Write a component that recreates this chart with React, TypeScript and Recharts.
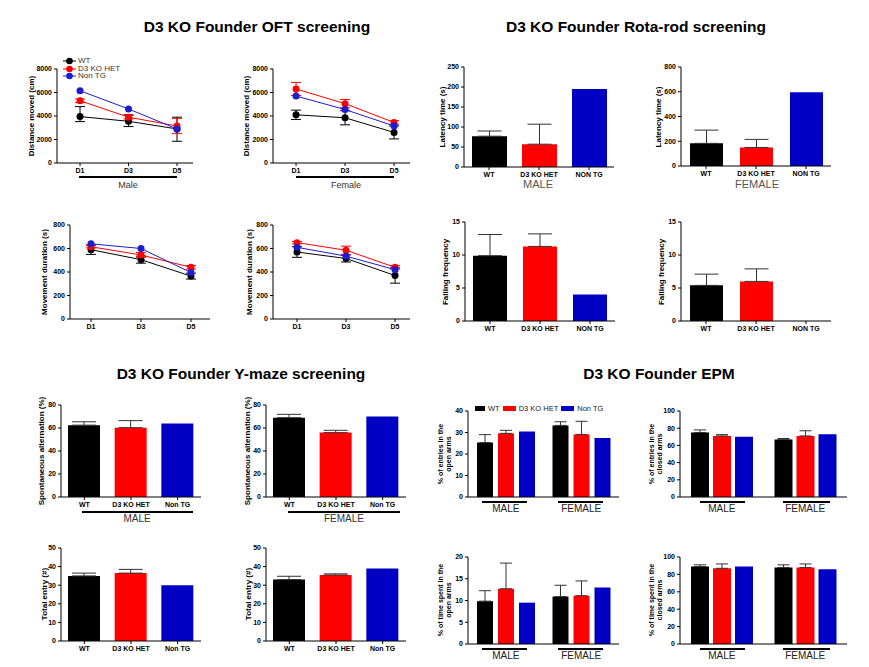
import React from 'react';
import { LineChart, Line, BarChart, Bar, XAxis, YAxis, ErrorBar, Cell } from 'recharts';

// ---- data ----
const groups = ['WT', 'D3 KO HET', 'Non TG'];
const lineColors = ['#000000', '#ff0000', '#1c1cd0'];
const barColors = ['#000000', '#ff0000', '#0000c4'];
const days = [1, 3, 5];
const rotaLabels = ['WT', 'D3 KO HET', 'NON TG'];
const ymazeLabels = ['WT', 'D3 KO HET', 'Non TG'];
const sexes = ['MALE', 'FEMALE'];

// OFT distance moved (cm)
const distMaleWT = [3950, 3550, 2900];
const distMaleWTErr = [[430, 850], [450, 550], [1050, 1000]];
const distMaleHET = [5300, 3900, 3150];
const distMaleHETErr = [150, 150, 650];
const distMaleNTG = [6150, 4600, 2900];
const distFemaleWT = [4100, 3850, 2600];
const distFemaleWTErr = [400, 600, 550];
const distFemaleHET = [6300, 5050, 3450];
const distFemaleHETErr = [560, 350, 150];
const distFemaleNTG = [5700, 4550, 3150];

// OFT movement duration (s)
const durMaleWT = [590, 505, 365];
const durMaleWTErr = [40, 30, 25];
const durMaleHET = [615, 545, 440];
const durMaleHETErr = [10, 20, 15];
const durMaleNTG = [640, 600, 395];
const durFemaleWT = [570, 515, 370];
const durFemaleWTErr = [45, 30, 65];
const durFemaleHET = [650, 585, 440];
const durFemaleHETErr = [10, 35, 15];
const durFemaleNTG = [610, 535, 420];

// Rota-rod
const latencyMale = [77, 57, 195];
const latencyMaleErr = [13, 50, 0];
const latencyFemale = [183, 150, 595];
const latencyFemaleErr = [107, 65, 0];
const fallMale = [9.9, 11.3, 4.0];
const fallMaleErr = [3.2, 1.9, 0];
const fallFemale = [5.4, 6.0, 0];
const fallFemaleErr = [1.7, 1.9, 0];

// Y-maze
const altMale = [62.5, 60.3, 64];
const altMaleErr = [2.9, 6.1, 0];
const altFemale = [69, 56, 70];
const altFemaleErr = [2.9, 2, 0];
const entryMale = [35, 36.5, 30];
const entryMaleErr = [1.5, 2, 0];
const entryFemale = [33, 35.5, 39];
const entryFemaleErr = [1.8, 0.6, 0];

// EPM (per sex: WT, HET, Non TG)
const openEntryMale = [25.3, 29.6, 30.5];
const openEntryMaleErr = [3.7, 1.4, 0];
const openEntryFemale = [33.3, 29.1, 27.4];
const openEntryFemaleErr = [1.7, 6.1, 0];
const closedEntryMale = [75, 71, 70];
const closedEntryMaleErr = [3, 1.5, 0];
const closedEntryFemale = [67, 71, 73];
const closedEntryFemaleErr = [1, 6, 0];
const openTimeMale = [9.85, 12.7, 9.5];
const openTimeMaleErr = [2.4, 5.9, 0];
const openTimeFemale = [10.9, 11.1, 13.0];
const openTimeFemaleErr = [2.6, 3.4, 0];
const closedTimeMale = [89, 87, 89];
const closedTimeMaleErr = [2, 5, 0];
const closedTimeFemale = [88, 88, 86];
const closedTimeFemaleErr = [3, 4, 0];

// ---- helpers ----
const FONT = '"Liberation Sans", Arial, sans-serif';
const YW = 40;
const MT = 8;
const MR = 8;
const XH = 30;

type Rect = { x: number; y: number; w: number; h: number };

const tickStyle = { fontSize: 7, fontWeight: 700, fill: '#000', fontFamily: FONT };
const axisBits = {
  axisLine: { stroke: '#000' },
  tickLine: { stroke: '#000' },
  tickSize: 3,
};

const lineRows = (vals: number[][], errs: any[][]) =>
  days.map((d, i) => ({
    day: d,
    s0: vals[0][i],
    s1: vals[1][i],
    s2: vals[2][i],
    e0: errs[0][i],
    e1: errs[1][i],
  }));

const barRows = (labels: string[], vals: number[], errs: number[]) =>
  labels.map((name, i) => ({ name, value: vals[i], err: errs[i] ? [0, errs[i]] : null }));

const groupRows = (male: number[], maleErr: number[], female: number[], femaleErr: number[]) =>
  [[male, maleErr], [female, femaleErr]].map(([v, e], i) => ({
    sex: sexes[i],
    v0: v[0], v1: v[1], v2: v[2],
    e0: e[0] ? [0, e[0]] : null,
    e1: e[1] ? [0, e[1]] : null,
    e2: e[2] ? [0, e[2]] : null,
  }));

function Box({ r, children }: { r: Rect; children: React.ReactNode }) {
  return <div style={{ position: 'absolute', left: r.x - YW, top: r.y - MT }}>{children}</div>;
}

function YTitle({ x, y, lines, size = 8 }: { x: number; y: number; lines: string[]; size?: number }) {
  return (
    <div
      style={{
        position: 'absolute',
        left: x,
        top: y,
        transform: 'translate(-50%,-50%) rotate(-90deg)',
        whiteSpace: 'nowrap',
        fontSize: size,
        fontWeight: 700,
        lineHeight: 1.15,
        textAlign: 'center',
      }}
    >
      {lines.map((l) => (
        <div key={l}>{l}</div>
      ))}
    </div>
  );
}

function Text({ x, y, children, size = 10, color = '#333', weight = 400 }: any) {
  return (
    <div
      style={{
        position: 'absolute',
        left: x,
        top: y,
        transform: 'translate(-50%,-50%)',
        whiteSpace: 'nowrap',
        fontSize: size,
        color,
        fontWeight: weight,
      }}
    >
      {children}
    </div>
  );
}

function Rule({ x1, x2, y }: { x1: number; x2: number; y: number }) {
  return <div style={{ position: 'absolute', left: x1, top: y, width: x2 - x1, height: 1.5, background: '#000' }} />;
}

function LinePanel({ r, domain, yMax, yTicks, rows }: any) {
  return (
    <Box r={r}>
      <LineChart width={r.w + YW + MR} height={r.h + MT + XH} data={rows} margin={{ top: MT, right: MR, left: 0, bottom: 0 }}>
        <XAxis
          dataKey="day"
          type="number"
          domain={domain}
          ticks={days}
          tickFormatter={(v) => `D${v}`}
          height={XH}
          tick={tickStyle}
          {...axisBits}
        />
        <YAxis type="number" domain={[0, yMax]} ticks={yTicks} width={YW} tick={tickStyle} interval={0} {...axisBits} />
        {[0, 1, 2].map((k) => (
          <Line
            key={k}
            dataKey={`s${k}`}
            stroke={lineColors[k]}
            strokeWidth={1}
            dot={{ r: 3.5, fill: lineColors[k], stroke: lineColors[k], strokeWidth: 0 }}
            isAnimationActive={false}
          >
            {k < 2 && <ErrorBar dataKey={`e${k}`} width={5} stroke={lineColors[k]} strokeWidth={1} direction="y" />}
          </Line>
        ))}
      </LineChart>
    </Box>
  );
}

function BarPanel({ r, yMax, yTicks, rows, barSize }: any) {
  return (
    <Box r={r}>
      <BarChart width={r.w + YW + MR} height={r.h + MT + XH} data={rows} margin={{ top: MT, right: MR, left: 0, bottom: 0 }}>
        <XAxis dataKey="name" height={XH} tick={tickStyle} interval={0} {...axisBits} />
        <YAxis type="number" domain={[0, yMax]} ticks={yTicks} width={YW} tick={tickStyle} interval={0} {...axisBits} />
        <Bar dataKey="value" barSize={barSize} isAnimationActive={false}>
          {rows.map((_: any, i: number) => (
            <Cell key={i} fill={barColors[i]} />
          ))}
          <ErrorBar dataKey="err" width={12} stroke="#333" strokeWidth={1} direction="y" />
        </Bar>
      </BarChart>
    </Box>
  );
}

function GroupPanel({ r, yMax, yTicks, rows, barSize, barGap }: any) {
  return (
    <Box r={r}>
      <BarChart
        width={r.w + YW + MR}
        height={r.h + MT + XH}
        data={rows}
        barGap={barGap}
        margin={{ top: MT, right: MR, left: 0, bottom: 0 }}
      >
        <XAxis
          dataKey="sex"
          height={XH}
          tick={{ fontSize: 10, fill: '#222', fontFamily: FONT }}
          tickLine={false}
          tickSize={0}
          tickMargin={8}
          axisLine={{ stroke: '#000' }}
          interval={0}
        />
        <YAxis type="number" domain={[0, yMax]} ticks={yTicks} width={YW} tick={tickStyle} interval={0} {...axisBits} />
        {[0, 1, 2].map((k) => (
          <Bar key={k} dataKey={`v${k}`} fill={barColors[k]} barSize={barSize} isAnimationActive={false}>
            <ErrorBar dataKey={`e${k}`} width={6} stroke="#333" strokeWidth={1} direction="y" />
          </Bar>
        ))}
      </BarChart>
    </Box>
  );
}

// ---- panel rects ----
const P1 = { x: 57, y: 69, w: 136, h: 94 };
const P2 = { x: 273, y: 69, w: 137, h: 94 };
const P3 = { x: 70, y: 225, w: 140, h: 94 };
const P4 = { x: 273, y: 225, w: 137, h: 94 };
const P5 = { x: 464, y: 67, w: 150, h: 100 };
const P6 = { x: 681, y: 67, w: 150, h: 99 };
const P7 = { x: 465, y: 222, w: 150, h: 99 };
const P8 = { x: 681, y: 222, w: 150, h: 99 };
const P9 = { x: 61, y: 405, w: 140, h: 92 };
const P10 = { x: 266, y: 405, w: 140, h: 92 };
const P11 = { x: 61, y: 548, w: 140, h: 93 };
const P12 = { x: 266, y: 548, w: 140, h: 93 };
const P13 = { x: 468, y: 411, w: 151, h: 86 };
const P14 = { x: 468, y: 557, w: 151, h: 87 };
const P15 = { x: 680, y: 411, w: 167, h: 86 };
const P16 = { x: 680, y: 557, w: 167, h: 87 };

export default function App() {
  return (
    <div
      style={{
        position: 'absolute',
        left: 0,
        top: 0,
        width: 869,
        height: 667,
        background: '#fff',
        fontFamily: FONT,
        color: '#000',
        overflow: 'hidden',
      }}
    >
      <Text x={257} y={27} size={15.5} weight={700} color="#000">D3 KO Founder OFT screening</Text>
      <Text x={636} y={27} size={15.5} weight={700} color="#000">D3 KO Founder Rota-rod screening</Text>
      <Text x={241} y={374} size={15.5} weight={700} color="#000">D3 KO Founder Y-maze screening</Text>
      <Text x={659} y={374} size={15.5} weight={700} color="#000">D3 KO Founder EPM</Text>

      {/* OFT */}
      <LinePanel r={P1} domain={[0.05, 5.66]} yMax={8000} yTicks={[0, 2000, 4000, 6000, 8000]}
        rows={lineRows([distMaleWT, distMaleHET, distMaleNTG], [distMaleWTErr, distMaleHETErr])} />
      <YTitle x={32} y={116} lines={['Distance moved (cm)']} />
      <Rule x1={79} x2={177} y={176} />
      <Text x={128} y={185} size={9}>Male</Text>
      <div style={{ position: 'absolute', left: 63, top: 57, fontSize: 8, color: '#333', lineHeight: '7.7px' }}>
        {groups.map((g, i) => (
          <div key={g} style={{ display: 'flex', alignItems: 'center', height: 7.7 }}>
            <svg width={13} height={8} style={{ marginRight: 2 }}>
              <line x1={0} y1={4} x2={13} y2={4} stroke={lineColors[i]} strokeWidth={1} />
              <circle cx={6.5} cy={4} r={3.3} fill={lineColors[i]} />
            </svg>
            <span>{g}</span>
          </div>
        ))}
      </div>

      <LinePanel r={P2} domain={[0.06, 5.65]} yMax={8000} yTicks={[0, 2000, 4000, 6000, 8000]}
        rows={lineRows([distFemaleWT, distFemaleHET, distFemaleNTG], [distFemaleWTErr, distFemaleHETErr])} />
      <YTitle x={247} y={116} lines={['Distance moved (cm)']} />
      <Rule x1={296} x2={394} y={176} />
      <Text x={346} y={185} size={9}>Female</Text>

      <LinePanel r={P3} domain={[0.16, 5.76]} yMax={800} yTicks={[0, 200, 400, 600, 800]}
        rows={lineRows([durMaleWT, durMaleHET, durMaleNTG], [durMaleWTErr, durMaleHETErr])} />
      <YTitle x={45} y={272} lines={['Movement duration (s)']} />

      <LinePanel r={P4} domain={[0.02, 5.61]} yMax={800} yTicks={[0, 200, 400, 600, 800]}
        rows={lineRows([durFemaleWT, durFemaleHET, durFemaleNTG], [durFemaleWTErr, durFemaleHETErr])} />
      <YTitle x={250} y={272} lines={['Movement duration (s)']} />

      {/* Rota-rod */}
      <BarPanel r={P5} yMax={250} yTicks={[0, 50, 100, 150, 200, 250]} barSize={35}
        rows={barRows(rotaLabels, latencyMale, latencyMaleErr)} />
      <YTitle x={443} y={117} lines={['Latency time (s)']} />
      <Text x={538} y={184} size={11} color="#555">MALE</Text>

      <BarPanel r={P6} yMax={800} yTicks={[0, 200, 400, 600, 800]} barSize={33}
        rows={barRows(rotaLabels, latencyFemale, latencyFemaleErr)} />
      <YTitle x={659} y={117} lines={['Latency time (s)']} />
      <Text x={757} y={184} size={11} color="#555">FEMALE</Text>

      <BarPanel r={P7} yMax={15} yTicks={[0, 5, 10, 15]} barSize={34}
        rows={barRows(rotaLabels, fallMale, fallMaleErr)} />
      <YTitle x={446} y={272} lines={['Falling frequency']} />

      <BarPanel r={P8} yMax={15} yTicks={[0, 5, 10, 15]} barSize={33}
        rows={barRows(rotaLabels, fallFemale, fallFemaleErr)} />
      <YTitle x={662} y={272} lines={['Falling frequency']} />

      {/* Y-maze */}
      <BarPanel r={P9} yMax={80} yTicks={[0, 20, 40, 60, 80]} barSize={32}
        rows={barRows(ymazeLabels, altMale, altMaleErr)} />
      <YTitle x={42} y={451} lines={['Spontaneous alternation (%)']} />
      <Rule x1={82} x2={193} y={511} />
      <Text x={137} y={518} size={10}>MALE</Text>

      <BarPanel r={P10} yMax={80} yTicks={[0, 20, 40, 60, 80]} barSize={32}
        rows={barRows(ymazeLabels, altFemale, altFemaleErr)} />
      <YTitle x={248} y={451} lines={['Spontaneous alternation (%)']} />
      <Rule x1={288} x2={400} y={511} />
      <Text x={344} y={518} size={10}>FEMALE</Text>

      <BarPanel r={P11} yMax={50} yTicks={[0, 10, 20, 30, 40, 50]} barSize={32}
        rows={barRows(ymazeLabels, entryMale, entryMaleErr)} />
      <YTitle x={45} y={594} lines={['Total entry (#)']} />

      <BarPanel r={P12} yMax={50} yTicks={[0, 10, 20, 30, 40, 50]} barSize={32}
        rows={barRows(ymazeLabels, entryFemale, entryFemaleErr)} />
      <YTitle x={249} y={594} lines={['Total entry (#)']} />

      {/* EPM */}
      <GroupPanel r={P13} yMax={40} yTicks={[0, 10, 20, 30, 40]} barSize={16} barGap={5}
        rows={groupRows(openEntryMale, openEntryMaleErr, openEntryFemale, openEntryFemaleErr)} />
      <YTitle x={445} y={454} size={7} lines={['% of entries in the', 'open arms']} />
      <Rule x1={482} x2={527} y={501} />
      <Rule x1={558} x2={603} y={501} />
      <div style={{ position: 'absolute', left: 475, top: 404, display: 'flex', alignItems: 'center', fontSize: 7.5, color: '#222' }}>
        {groups.map((g, i) => (
          <div key={g} style={{ display: 'flex', alignItems: 'center', marginRight: 3 }}>
            <div style={{ width: i === 0 ? 10 : 13, height: 5, background: barColors[i], marginRight: 3 }} />
            <span>{g}</span>
          </div>
        ))}
      </div>

      <GroupPanel r={P14} yMax={20} yTicks={[0, 5, 10, 15, 20]} barSize={16} barGap={5}
        rows={groupRows(openTimeMale, openTimeMaleErr, openTimeFemale, openTimeFemaleErr)} />
      <YTitle x={445} y={600} size={7} lines={['% of time spent in the', 'open arms']} />
      <Rule x1={482} x2={527} y={648} />
      <Rule x1={558} x2={603} y={648} />

      <GroupPanel r={P15} yMax={100} yTicks={[0, 20, 40, 60, 80, 100]} barSize={18} barGap={4}
        rows={groupRows(closedEntryMale, closedEntryMaleErr, closedEntryFemale, closedEntryFemaleErr)} />
      <YTitle x={656} y={454} size={7} lines={['% of entries in the', 'closed arms']} />
      <Rule x1={700} x2={745} y={501} />
      <Rule x1={783} x2={830} y={501} />

      <GroupPanel r={P16} yMax={100} yTicks={[0, 20, 40, 60, 80, 100]} barSize={18} barGap={4}
        rows={groupRows(closedTimeMale, closedTimeMaleErr, closedTimeFemale, closedTimeFemaleErr)} />
      <YTitle x={656} y={600} size={7} lines={['% of time spent in the', 'closed arms']} />
      <Rule x1={700} x2={745} y={648} />
      <Rule x1={783} x2={830} y={648} />
    </div>
  );
}
